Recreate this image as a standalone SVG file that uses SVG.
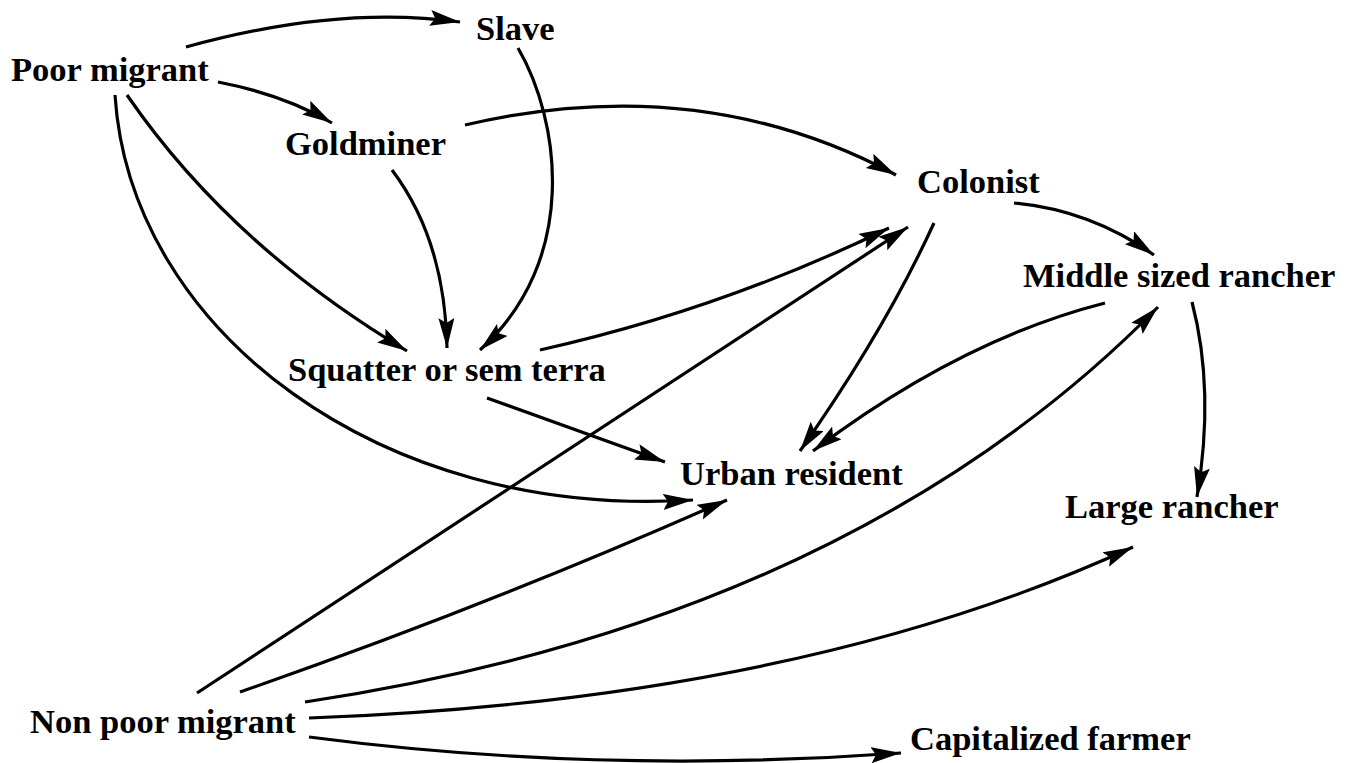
<svg xmlns="http://www.w3.org/2000/svg" width="1346" height="763" viewBox="0 0 1346 763">
<style>
.lbl{font-family:"Liberation Serif","Times New Roman",serif;font-weight:bold;font-size:34.5px;fill:#000}
.c{fill:none;stroke:#000;stroke-width:3.2;marker-end:url(#ah)}
</style>
<defs>
<marker id="ah" markerUnits="userSpaceOnUse" markerWidth="32" markerHeight="18" refX="30" refY="8" orient="auto" viewBox="0 0 32 18">
<path d="M0,0 L30,8 L0,16 L5,8 Z" fill="#000"/>
</marker>
</defs>
<rect width="1346" height="763" fill="#fff"/>
<g id="connectors">
<path class="c" d="M186,47 Q337,5 460,22"/>
<path class="c" d="M218,82 Q285,95 332,123"/>
<path class="c" d="M465,125 Q700,70 896,175"/>
<path class="c" d="M518,48 C560,120 580,260 480,350"/>
<path class="c" d="M392,170 Q445,240 447,348"/>
<path class="c" d="M127,95 Q230,245 407,351"/>
<path class="c" d="M115,95 C130,330 380,520 693,500"/>
<path class="c" d="M540,350 Q720,310 889,228"/>
<path class="c" d="M487,398 L665,462"/>
<path class="c" d="M197,693 L908,227"/>
<path class="c" d="M934,223 Q885,330 800,451"/>
<path class="c" d="M1014,203 Q1090,210 1154,255"/>
<path class="c" d="M1105,303 Q960,340 813,451"/>
<path class="c" d="M1192,302 Q1215,390 1197,497"/>
<path class="c" d="M240,692 Q490,605 727,500"/>
<path class="c" d="M305,702 Q850,620 1158,307"/>
<path class="c" d="M309,718 Q800,700 1133,547"/>
<path class="c" d="M309,737 Q600,775 901,753"/>
</g>
<g id="slave"><text class="lbl" x="476" y="40">Slave</text></g>
<g id="poor-migrant"><text class="lbl" x="11" y="81">Poor migrant</text></g>
<g id="goldminer"><text class="lbl" x="285" y="155">Goldminer</text></g>
<g id="colonist"><text class="lbl" x="917" y="193">Colonist</text></g>
<g id="middle-sized-rancher"><text class="lbl" x="1023" y="287">Middle sized rancher</text></g>
<g id="squatter"><text class="lbl" x="288" y="381">Squatter or sem terra</text></g>
<g id="urban-resident"><text class="lbl" x="680" y="485">Urban resident</text></g>
<g id="large-rancher"><text class="lbl" x="1065" y="518">Large rancher</text></g>
<g id="non-poor-migrant"><text class="lbl" x="30" y="733">Non poor migrant</text></g>
<g id="capitalized-farmer"><text class="lbl" x="910" y="750">Capitalized farmer</text></g>
</svg>
